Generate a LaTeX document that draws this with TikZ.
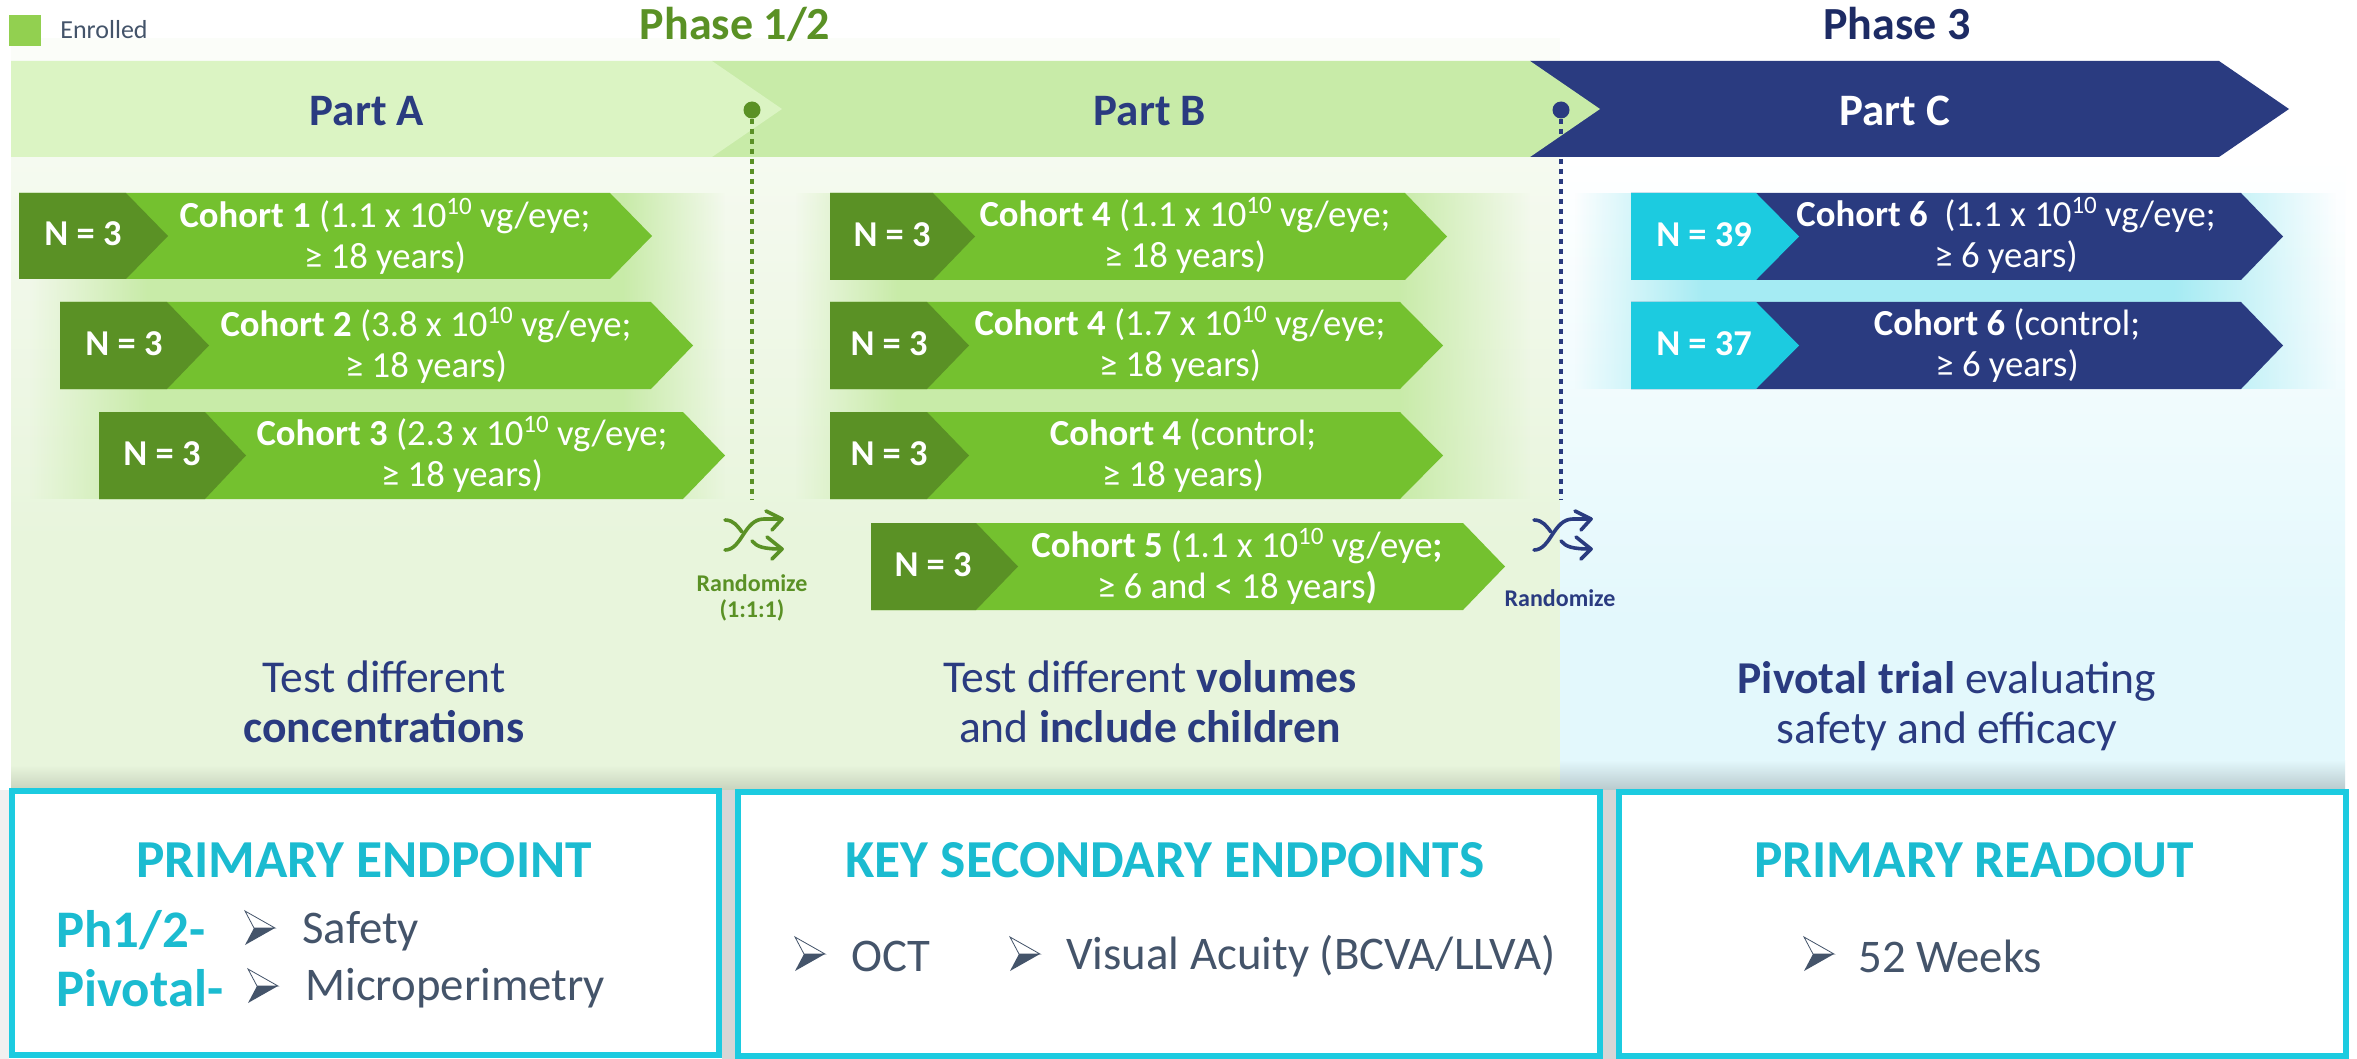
\documentclass[tikz,border=0pt]{standalone}
\usepackage{fontspec}
\usetikzlibrary{fadings}
\setmainfont{Carlito}
\definecolor{bandA}{HTML}{DBF4C3}
\definecolor{bandB}{HTML}{C8EBA8}
\definecolor{navy}{HTML}{2A3B80}
\definecolor{deepnavy}{HTML}{1D2B64}
\definecolor{leaf}{HTML}{74C12F}
\definecolor{moss}{HTML}{5A9125}
\definecolor{cyanbar}{HTML}{1CCBE0}
\definecolor{cyantext}{HTML}{1BBBD0}
\definecolor{slate}{HTML}{44546A}
\definecolor{paleA}{HTML}{F5FAF0}
\definecolor{paleB}{HTML}{E8F5DC}
\definecolor{paleC}{HTML}{E3F8FC}
\definecolor{glowC}{HTML}{A5EBF3}
\definecolor{legend}{HTML}{92D050}
\newcommand\supten{\raisebox{0.36em}{\fontsize{12.5}{12.5}\selectfont 10}}
\tikzset{
  label/.style={inner sep=0pt,align=center},
  cohorttext/.style={label,text=white,font=\fontsize{18.35}{20.5}\selectfont},
  ntext/.style={label,text=white,font=\fontsize{18.2}{20}\selectfont\bfseries},
  parttext/.style={label,font=\fontsize{22.5}{25}\selectfont\bfseries},
  phasetext/.style={label,font=\fontsize{23}{26}\selectfont\bfseries},
  desctext/.style={label,text=navy,font=\fontsize{22.8}{25}\selectfont},
  randtext/.style={label,font=\fontsize{12}{13}\selectfont\bfseries},
  headtext/.style={label,text=cyantext,font=\fontsize{26.7}{30}\selectfont\bfseries},
  itemtext/.style={label,anchor=west,text=slate,font=\fontsize{23.4}{26}\selectfont},
  tagtext/.style={label,anchor=west,text=cyantext,font=\fontsize{26.4}{30}\selectfont\bfseries},
  endbox/.style={draw=cyanbar,line width=3pt,fill=white,inner sep=0pt,minimum height=132pt},
  pin/.style={circle,inner sep=0pt,minimum size=8.5pt},
  guide/.style={line width=1.8pt,dash pattern=on 2.5pt off 2.5pt},
}
% glow band behind a block of rows: left fade, solid, right fade
\newcommand\glowband[7]{%
  \fill[#7,path fading=west] (#1,#5) rectangle (#2,#6);
  \fill[#7] (#2,#5) rectangle (#3,#6);
  \fill[#7,path fading=east] (#3,#5) rectangle (#4,#6);
}
% cohort chevron: x0 s1 t1 s2 t2 ytop ybot tagcolour maincolour
\newcommand\cohortrow[9]{%
  \fill[#9] (#1,#6)--(#4,#6)--(#5,{(#6+#7)/2})--(#4,#7)--(#1,#7)--cycle;
  \fill[#8] (#1,#6)--(#2,#6)--(#3,{(#6+#7)/2})--(#2,#7)--(#1,#7)--cycle;
}
\newcommand\shuffleicon[3]{%
  \begin{scope}[shift={(#1,#2)},draw=#3,line width=1.8pt,line cap=round,line join=round]
    \draw (-27,15) .. controls (-10,15) and (-8,-16) .. (12,-16) -- (30,-16);
    \draw (14,-24) -- (30,-16) -- (20,-5);
    \draw (-27,-15) .. controls (-18,-15) and (-14,-8) .. (-10,-3);
    \draw (0,6) .. controls (5,12) and (12,14) .. (30,14);
    \draw (15,2) -- (30,14) -- (20,24);
  \end{scope}}
\newcommand\bulletmark[2]{%
  \begin{scope}[shift={(#1,#2)}]
    \draw[slate,line width=0.4pt,fill=white] (-15,-17)--(15,0)--(-6,0)--cycle;
    \fill[slate] (-15,17)--(15,0)--(-6,0)--cycle;
  \end{scope}}
\begin{document}
\begin{tikzpicture}[x=0.5pt,y=-0.5pt]
\useasboundingbox (0,0) rectangle (2357,1059);
\fill[white] (0,0) rectangle (2357,1059);
% backgrounds
\fill[white!60!paleA] (11,38) rectangle (1560,61);
\fill[top color=paleA,bottom color=paleB] (11,157) rectangle (1560,540);
\fill[paleB] (11,540) rectangle (1560,765);
\fill[top color=paleB,bottom color=paleB!85!black] (11,765) rectangle (1560,792);
\fill[top color=white,bottom color=paleC] (1560,157) rectangle (2345,620);
\fill[paleC] (1560,620) rectangle (2345,760);
\fill[top color=paleC,bottom color=paleC!80!black] (1560,760) rectangle (2345,792);
% glow bands
\glowband{30}{148}{622}{725}{193}{499}{bandB}
\glowband{795}{898}{1397}{1530}{193}{499}{bandB}
\glowband{1575}{1704}{2173}{2336}{193}{389}{glowC}
% gaps between end boxes
\fill[black!16] (722,790) rectangle (735,1059);
\fill[black!16] (1603,790) rectangle (1616,1059);
\fill[black!6] (0,790) rectangle (9,1059);
% header bands
\fill[navy] (1530,61)--(2219,61)--(2289,109)--(2219,157)--(1530,157)--cycle;
\fill[bandB] (712,61)--(1530,61)--(1600,109)--(1530,157)--(712,157)--cycle;
\fill[bandA] (11,61)--(712,61)--(782,109)--(712,157)--(11,157)--cycle;
% legend
\fill[legend] (9,15) rectangle (41,46);
\node[label,anchor=west,text=slate,font=\fontsize{13}{14}\selectfont] (legendlabel) at (60,30) {Enrolled};
% phase titles and parts
\node[phasetext,text=moss] (phaseA) at (735,24) {Phase 1/2};
\node[phasetext,text=deepnavy] (phaseB) at (1897,24) {Phase 3};
\node[parttext,text=navy] (partA) at (367,111) {Part A};
\node[parttext,text=navy] (partB) at (1150,111) {Part B};
\node[parttext,text=white] (partC) at (1895,111) {Part C};
% randomisation guides
\node[pin,fill=moss] (pinA) at (752,110) {};
\node[pin,fill=navy] (pinB) at (1561,110) {};
\coordinate (endA) at (752,499);
\coordinate (endB) at (1561,499);
\draw[guide,moss] (pinA) -- (endA);
\draw[guide,navy] (pinB) -- (endB);
% Part A rows
\cohortrow{19}{126}{168}{610}{652}{193}{279}{moss}{leaf}
\cohortrow{60}{167}{209}{651}{693}{302}{389}{moss}{leaf}
\cohortrow{99}{205}{246}{683}{725}{412}{499}{moss}{leaf}
\node[ntext] (nA1) at (83,234) {N = 3};
\node[ntext] (nA2) at (124,344) {N = 3};
\node[ntext] (nA3) at (162,454) {N = 3};
\node[cohorttext] (cA1) at (385,236) {\textbf{Cohort 1} (1.1 x 10\supten{} vg/eye;\\≥ 18 years)};
\node[cohorttext] (cA2) at (426,345) {\textbf{Cohort 2} (3.8 x 10\supten{} vg/eye;\\≥ 18 years)};
\node[cohorttext] (cA3) at (462,454) {\textbf{Cohort 3} (2.3 x 10\supten{} vg/eye;\\≥ 18 years)};
% Part B rows
\cohortrow{830}{933}{975}{1405}{1447}{193}{280}{moss}{leaf}
\cohortrow{830}{927}{969}{1400}{1443}{302}{389}{moss}{leaf}
\cohortrow{830}{927}{969}{1400}{1443}{412}{499}{moss}{leaf}
\cohortrow{871}{976}{1018}{1463}{1505}{523}{610}{moss}{leaf}
\node[ntext] (nB1) at (892,235) {N = 3};
\node[ntext] (nB2) at (889,344) {N = 3};
\node[ntext] (nB3) at (889,454) {N = 3};
\node[ntext] (nB4) at (933,565) {N = 3};
\node[cohorttext] (cB1) at (1185,235) {\textbf{Cohort 4} (1.1 x 10\supten{} vg/eye;\\≥ 18 years)};
\node[cohorttext] (cB2) at (1180,344) {\textbf{Cohort 4} (1.7 x 10\supten{} vg/eye;\\≥ 18 years)};
\node[cohorttext] (cB3) at (1183,455.5) {\textbf{Cohort 4} (control;\\≥ 18 years)};
\node[cohorttext] (cB4) at (1237,566) {\textbf{Cohort 5} (1.1 x 10\supten{} vg/eye\textbf{;}\\≥ 6 and < 18 years\textbf{)}};
% Part C rows
\cohortrow{1631}{1756}{1799}{2241}{2283}{193}{280}{cyanbar}{navy}
\cohortrow{1631}{1756}{1799}{2241}{2283}{302}{389}{cyanbar}{navy}
\node[ntext] (nC1) at (1704,235) {N = 39};
\node[ntext] (nC2) at (1704,344) {N = 37};
\node[cohorttext] (cC1) at (2006,235) {\textbf{Cohort 6}~ (1.1 x 10\supten{} vg/eye;\\≥ 6 years)};
\node[cohorttext] (cC2) at (2007,345.5) {\textbf{Cohort 6} (control;\\≥ 6 years)};
% randomise icons
\shuffleicon{752}{535}{moss}
\shuffleicon{1561}{535}{navy}
\node[randtext,text=moss] (randA) at (752,598) {Randomize\\(1:1:1)};
\node[randtext,text=navy] (randB) at (1560,598) {Randomize};
% descriptions
\node[desctext] (dA) at (384,702) {Test different\\\textbf{concentrations}};
\node[desctext] (dB) at (1150,702) {Test different \textbf{volumes}\\and \textbf{include children}};
\node[desctext] (dC) at (1947,706) {\textbf{Pivotal trial} evaluating\\safety and efficacy};
% end boxes
\node[endbox,minimum width=353.5pt] (box1) at (365.5,923) {};
\node[endbox,minimum width=431pt] (box2) at (1169,924) {};
\node[endbox,minimum width=363.5pt] (box3) at (1982.5,924) {};
\node[headtext] (h1) at (364,860) {PRIMARY ENDPOINT};
\node[headtext] (h2) at (1165,860) {KEY SECONDARY ENDPOINTS};
\node[headtext] (h3) at (1974,860) {PRIMARY READOUT};
\node[tagtext] (tag1) at (56,930) {Ph1/2-};
\node[tagtext] (tag2) at (56,988) {Pivotal-};
\bulletmark{260}{928}
\bulletmark{263}{986}
\bulletmark{810}{954}
\bulletmark{1025}{954}
\bulletmark{1819}{954}
\node[itemtext] (i1) at (302,931) {Safety};
\node[itemtext] (i2) at (305,988) {Microperimetry};
\node[itemtext] (i3) at (851,956) {OCT};
\node[itemtext] (i4) at (1066,956) {Visual Acuity (BCVA/LLVA)};
\node[itemtext] (i5) at (1858,956) {52 Weeks};
\end{tikzpicture}
\end{document}
